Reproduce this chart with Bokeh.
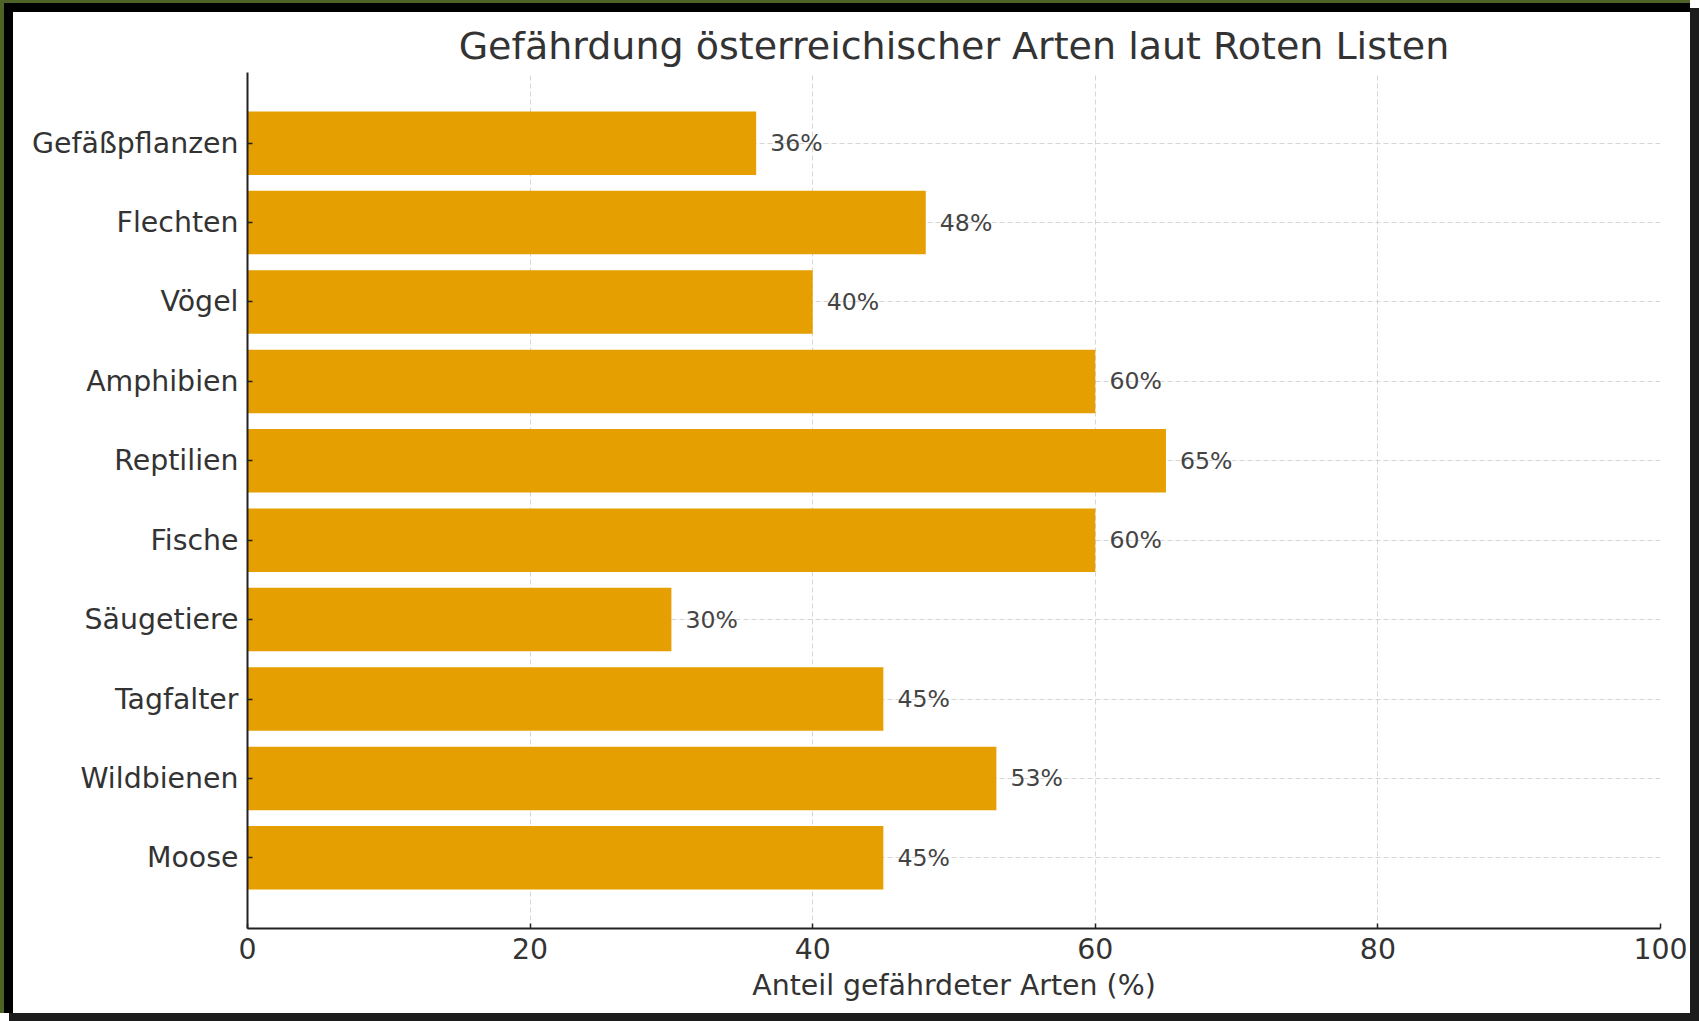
from bokeh.plotting import figure
from bokeh.models import ColumnDataSource, Range1d, FixedTicker, LabelSet
from bokeh.core.properties import value
from bokeh.embed import file_html
from bokeh.resources import INLINE

categories = ["Gefäßpflanzen", "Flechten", "Vögel", "Amphibien", "Reptilien",
              "Fische", "Säugetiere", "Tagfalter", "Wildbienen", "Moose"]
values = [36, 48, 40, 60, 65, 60, 30, 45, 53, 45]
x_ticks = [0, 20, 40, 60, 80, 100]
title_text = "Gefährdung österreichischer Arten laut Roten Listen"
x_label = "Anteil gefährdeter Arten (%)"

n = len(categories)
ypos = [n - 1 - i for i in range(n)]
labels = [f"{v}%" for v in values]
label_x = [v + 1 for v in values]
src = ColumnDataSource(dict(cat=categories, val=values, y=ypos, lab=labels, lx=label_x))

FONT = "DejaVu Sans"
TXT = "#333333"

p = figure(width=1690, height=1013, output_backend="svg", toolbar_location=None,
           x_range=Range1d(0, 100), y_range=Range1d(-0.89, n - 1 + 0.89),
           min_border_left=247, min_border_right=30, min_border_top=72,
           min_border_bottom=85, title=title_text)
p.styles = {
    "background-color": "white",
    "box-shadow": "inset 4px 3px 0 0 #4d6224, inset 13px 12px 0 0 #000000, 9px 8px 0 0 #1c1c1c",
}
p.outline_line_color = None
p.background_fill_color = "white"
p.border_fill_alpha = 0

p.hbar(y="y", right="val", left=0, height=0.8, source=src,
       fill_color="#E69F00", line_color=None)

p.add_layout(LabelSet(x="lx", y="y", text="lab", source=src,
                      text_baseline="middle", text_align="left",
                      text_font_size="23.6px", text_color="#444444",
                      text_font=value(FONT)))

p.title.align = "center"
p.title.text_font = FONT
p.title.text_font_size = "38px"
p.title.text_font_style = "normal"
p.title.text_color = TXT

p.xaxis.ticker = FixedTicker(ticks=x_ticks)
p.yaxis.ticker = FixedTicker(ticks=ypos)
p.yaxis.major_label_overrides = {y: c for y, c in zip(ypos, categories)}

for ax in (p.xaxis, p.yaxis):
    ax.major_label_text_font = FONT
    ax.major_label_text_font_size = "28.4px"
    ax.major_label_text_color = TXT
    ax.axis_line_color = "#222222"
    ax.axis_line_width = 2
    ax.major_tick_line_color = "#222222"
    ax.major_tick_line_width = 1.5
    ax.major_tick_in = 5
    ax.major_tick_out = 0
    ax.minor_tick_line_color = None

p.yaxis.major_label_standoff = 9
p.xaxis.major_label_standoff = 9
p.xaxis.axis_label = x_label
p.xaxis.axis_label_text_font = FONT
p.xaxis.axis_label_text_font_size = "28.4px"
p.xaxis.axis_label_text_font_style = "normal"
p.xaxis.axis_label_text_color = TXT
p.xaxis.axis_label_standoff = 7

for g in (p.xgrid, p.ygrid):
    g.grid_line_color = "#cccccc"
    g.grid_line_alpha = 0.8
    g.grid_line_dash = "5 3"
    g.grid_line_width = 1

open("out.html", "w").write(file_html(p, INLINE))
